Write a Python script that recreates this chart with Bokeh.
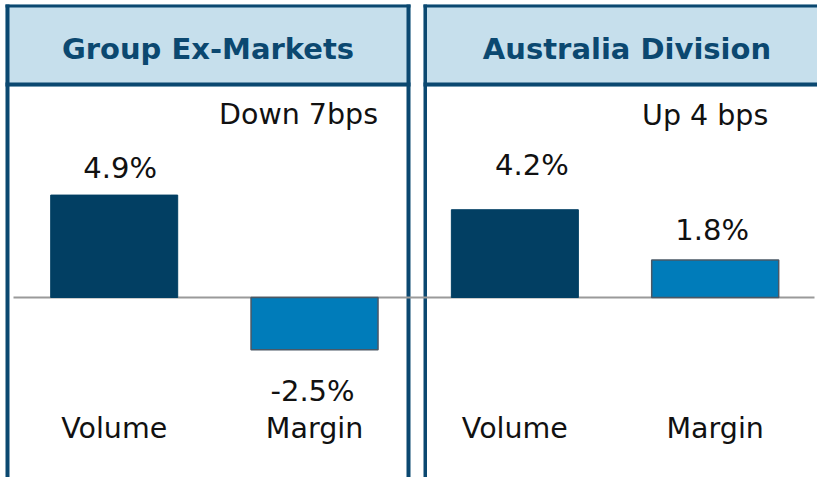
from bokeh.plotting import figure
from bokeh.models import Range1d, ColumnDataSource
from bokeh.core.properties import value
from bokeh.embed import file_html
from bokeh.resources import INLINE

# ---------------- data ----------------
panels = ["Group Ex-Markets", "Australia Division"]
categories = ["Volume", "Margin"]
volume_change = [4.9, 4.2]          # % change
margin_change = [-2.5, 1.8]         # % change
margin_notes = ["Down 7bps", "Up 4 bps"]

# ---------------- layout (pixels of the picture) ----------------
W, H = 817, 477
OX, OY = 0, 0
SLOT_PX = 200.33
FIRST_CENTER_PX = 113.7
PCT_PX = 20.9
ZERO_PY = 297
BAR_PX = 127
TEXT_SHIFT = -10   # baseline correction for the svg text renderer

x_start = (OX - FIRST_CENTER_PX) / SLOT_PX
x_end = (OX + W - FIRST_CENTER_PX) / SLOT_PX
y_end = (ZERO_PY - OY) / PCT_PX
y_start = -(OY + H - ZERO_PY) / PCT_PX


def X(px):
    return x_start + (px - OX) / SLOT_PX


def Y(py):
    return y_end - (py + TEXT_SHIFT - OY) / PCT_PX


def YB(py):
    return y_end - (py - OY) / PCT_PX


NAVY = "#0B4870"
HEADER_FILL = "#C6DFEC"
VOL_COLOR = "#023F63"
MAR_COLOR = "#007CBA"
TEXT = "#111111"
FONT = value("DejaVu Sans")

p = figure(width=W, height=H, output_backend="svg", toolbar_location=None,
           x_range=Range1d(x_start, x_end), y_range=Range1d(y_start, y_end),
           min_border=0, min_border_left=0, min_border_right=0,
           min_border_top=0, min_border_bottom=0)
p.axis.visible = False
p.grid.visible = False
p.outline_line_color = None
p.background_fill_color = "white"
p.border_fill_color = "white"

# panel frames (left panel 5..410, right panel 423..830)
frames = [(5, 410), (423, 830)]
for (l, r) in frames:
    p.quad(left=X(l), right=X(r), top=YB(4), bottom=YB(86),
           fill_color=HEADER_FILL, line_color=None)
# top border
for (l, r) in frames:
    p.quad(left=X(l), right=X(r), top=YB(4), bottom=YB(7),
           fill_color=NAVY, line_color=None)
# header bottom line
for (l, r) in frames:
    p.quad(left=X(l), right=X(r), top=YB(82), bottom=YB(86),
           fill_color=NAVY, line_color=None)
# vertical borders
verticals = [(5, 9), (406, 410), (423, 426.5)]
for (l, r) in verticals:
    p.quad(left=X(l), right=X(r), top=YB(4), bottom=YB(OY + H + 2),
           fill_color=NAVY, line_color=None)

# panel titles
p.text(x=[X((l + r) / 2) for (l, r) in frames], y=[Y(58)] * 2, text=panels,
       text_font=FONT, text_font_size=value("29px"), text_font_style="bold",
       text_color=NAVY, text_align="center", text_baseline="alphabetic")

# zero line
p.segment(x0=[X(13)], y0=[0], x1=[X(814)], y1=[0], line_color="#9A9A9A", line_width=2)

# bars
n = len(panels)
vol_x = [2 * i for i in range(n)]
mar_x = [2 * i + 1 for i in range(n)]
bw = BAR_PX / SLOT_PX
p.vbar(x=vol_x, top=volume_change, bottom=0, width=bw,
       fill_color=VOL_COLOR, line_color=VOL_COLOR, line_width=1)
p.vbar(x=mar_x, top=margin_change, bottom=0, width=bw,
       fill_color=MAR_COLOR, line_color="#4A5866", line_width=1.5)

# value labels
vals = []
xs = []
for i in range(n):
    xs += [vol_x[i], mar_x[i]]
    vals += [volume_change[i], margin_change[i]]
lab = [f"{v:.1f}%" for v in vals]
dx = [6, -2, 17, -3]
dy = [d + TEXT_SHIFT for d in (-17, 51, -35, -20)]
src = ColumnDataSource(dict(x=xs, y=vals, t=lab, dx=dx, dy=dy))
p.text(x="x", y="y", text="t", x_offset="dx", y_offset="dy", source=src,
       text_font=FONT, text_font_size=value("29px"), text_color=TEXT,
       text_align="center", text_baseline="alphabetic")

# margin notes
p.text(x=mar_x, y=[Y(124), Y(125)], text=margin_notes, x_offset=[-16, -10],
       text_font=FONT, text_font_size=value("28.5px"), text_color=TEXT,
       text_align="center", text_baseline="alphabetic")

# category labels
p.text(x=xs, y=[Y(438)] * len(xs), text=categories * n,
       text_font=FONT, text_font_size=value("28.5px"), text_color=TEXT,
       text_align="center", text_baseline="alphabetic")

open("out.html", "w").write(file_html(p, INLINE))
